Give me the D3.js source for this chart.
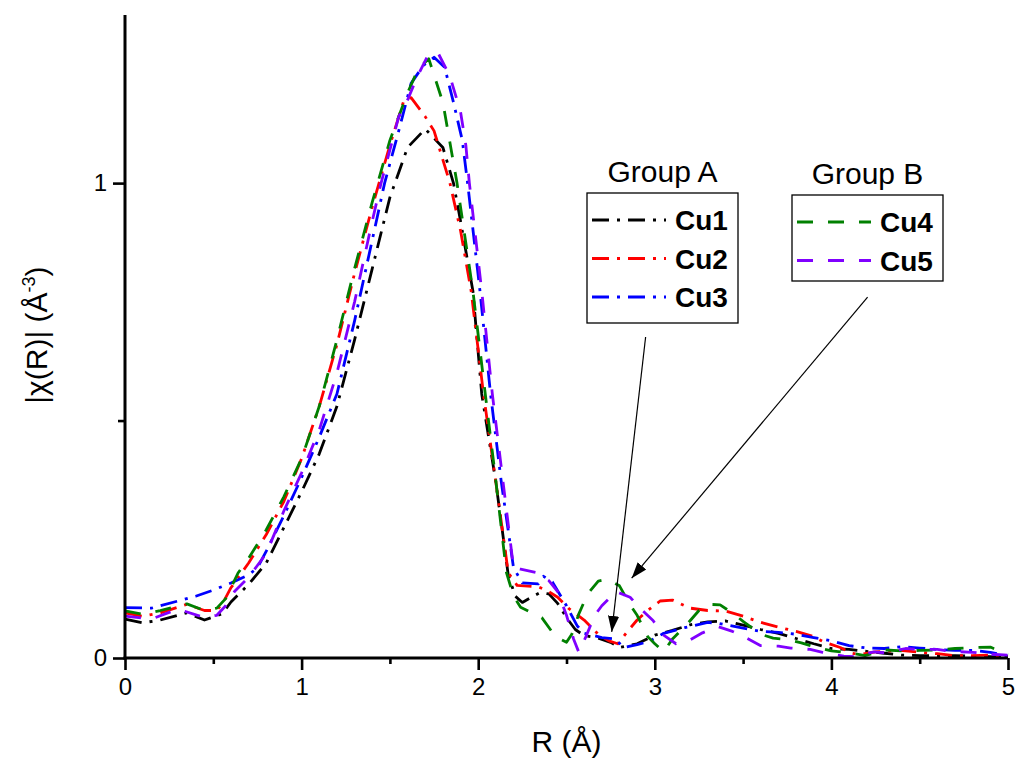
<!DOCTYPE html>
<html>
<head>
<meta charset="utf-8">
<script src="https://cdn.jsdelivr.net/npm/d3@7"></script>
<style>
  body { margin: 0; background: #fff; }
  text { font-family: "Liberation Sans", Arial, sans-serif; }
</style>
</head>
<body>
<svg id="chart" width="1017" height="758"></svg>
<script>
// [R, |chi(R)|] pairs
const cu1 = [[0,0.082],[0.1,0.074],[0.2,0.08],[0.3,0.09],[0.35,0.095],[0.45,0.08],[0.55,0.093],[0.6,0.118],[0.7,0.155],[0.8,0.2],[0.9,0.275],[1.0,0.35],[1.1,0.43],[1.2,0.53],[1.3,0.67],[1.4,0.82],[1.5,0.97],[1.6,1.075],[1.7,1.114],[1.8,1.075],[1.86,1.0],[1.9,0.92],[1.97,0.773],[2.02,0.556],[2.1,0.37],[2.17,0.175],[2.21,0.13],[2.25,0.117],[2.35,0.138],[2.4,0.135],[2.45,0.115],[2.5,0.085],[2.55,0.06],[2.6,0.047],[2.68,0.042],[2.75,0.033],[2.8,0.022],[2.9,0.03],[3.0,0.048],[3.1,0.058],[3.2,0.07],[3.3,0.076],[3.4,0.078],[3.5,0.069],[3.6,0.06],[3.7,0.052],[3.8,0.041],[3.9,0.03],[4.0,0.02],[4.1,0.018],[4.2,0.014],[4.3,0.01],[4.4,0.006],[4.5,0.005],[4.7,0.005],[4.9,0.003],[5.0,0.002]];
const cu2 = [[0,0.095],[0.1,0.088],[0.2,0.095],[0.35,0.113],[0.45,0.1],[0.52,0.1],[0.56,0.12],[0.6,0.148],[0.7,0.2],[0.8,0.26],[0.9,0.33],[1.0,0.42],[1.1,0.53],[1.2,0.66],[1.3,0.81],[1.4,0.95],[1.5,1.08],[1.58,1.175],[1.62,1.18],[1.7,1.14],[1.75,1.11],[1.84,1.0],[1.9,0.9],[1.96,0.773],[2.03,0.556],[2.1,0.37],[2.17,0.18],[2.22,0.153],[2.34,0.15],[2.39,0.142],[2.45,0.128],[2.51,0.105],[2.6,0.08],[2.68,0.05],[2.74,0.036],[2.79,0.03],[2.85,0.058],[2.9,0.08],[2.96,0.1],[3.03,0.12],[3.1,0.122],[3.2,0.105],[3.3,0.1],[3.4,0.099],[3.5,0.088],[3.6,0.075],[3.7,0.065],[3.8,0.056],[3.9,0.045],[3.95,0.035],[4.05,0.022],[4.12,0.01],[4.16,0.007],[4.25,0.013],[4.39,0.016],[4.5,0.012],[4.6,0.009],[4.7,0.005],[4.8,0.005],[4.9,0.006],[5.0,0.003]];
const cu3 = [[0,0.106],[0.15,0.105],[0.3,0.12],[0.4,0.13],[0.5,0.143],[0.6,0.158],[0.7,0.175],[0.75,0.19],[0.8,0.225],[0.9,0.3],[1.0,0.38],[1.1,0.465],[1.2,0.556],[1.3,0.71],[1.4,0.88],[1.47,1.0],[1.55,1.11],[1.62,1.21],[1.69,1.248],[1.75,1.265],[1.81,1.244],[1.86,1.17],[1.91,1.09],[1.94,1.0],[2.01,0.773],[2.07,0.556],[2.13,0.373],[2.2,0.19],[2.25,0.158],[2.34,0.156],[2.37,0.172],[2.42,0.16],[2.5,0.11],[2.56,0.068],[2.6,0.052],[2.7,0.043],[2.78,0.04],[2.82,0.022],[2.9,0.028],[2.97,0.035],[3.05,0.052],[3.17,0.064],[3.3,0.075],[3.36,0.073],[3.5,0.063],[3.6,0.056],[3.7,0.054],[3.8,0.05],[3.9,0.043],[4.0,0.036],[4.1,0.026],[4.2,0.021],[4.3,0.02],[4.4,0.024],[4.5,0.021],[4.6,0.018],[4.7,0.016],[4.8,0.016],[4.9,0.012],[5.0,0.004]];
const cu4 = [[0,0.099],[0.1,0.092],[0.2,0.1],[0.35,0.114],[0.45,0.1],[0.52,0.105],[0.57,0.125],[0.64,0.179],[0.7,0.21],[0.8,0.27],[0.9,0.34],[1.0,0.42],[1.1,0.53],[1.2,0.67],[1.3,0.82],[1.4,0.96],[1.5,1.09],[1.6,1.19],[1.66,1.24],[1.72,1.262],[1.8,1.17],[1.88,1.0],[1.97,0.773],[2.04,0.556],[2.1,0.373],[2.16,0.18],[2.2,0.13],[2.24,0.107],[2.36,0.085],[2.44,0.044],[2.5,0.033],[2.53,0.05],[2.57,0.093],[2.62,0.135],[2.68,0.162],[2.73,0.166],[2.8,0.152],[2.86,0.112],[2.9,0.09],[2.96,0.045],[3.0,0.03],[3.05,0.013],[3.1,0.04],[3.18,0.07],[3.25,0.1],[3.3,0.113],[3.37,0.112],[3.45,0.092],[3.5,0.077],[3.6,0.05],[3.67,0.042],[3.75,0.039],[3.83,0.032],[3.9,0.024],[4.0,0.015],[4.1,0.011],[4.19,0.005],[4.3,0.017],[4.4,0.015],[4.5,0.016],[4.6,0.017],[4.7,0.02],[4.8,0.022],[4.9,0.023],[5.0,0.007]];
const cu5 = [[0,0.088],[0.15,0.082],[0.3,0.103],[0.45,0.085],[0.52,0.09],[0.57,0.11],[0.62,0.14],[0.7,0.17],[0.8,0.22],[0.9,0.31],[1.0,0.39],[1.1,0.48],[1.2,0.6],[1.3,0.75],[1.4,0.92],[1.45,1.0],[1.5,1.07],[1.55,1.14],[1.6,1.175],[1.65,1.22],[1.71,1.265],[1.77,1.276],[1.84,1.225],[1.9,1.15],[1.93,1.08],[1.95,1.0],[2.02,0.773],[2.08,0.556],[2.14,0.373],[2.2,0.19],[2.24,0.187],[2.33,0.18],[2.4,0.163],[2.45,0.14],[2.5,0.09],[2.54,0.04],[2.57,0.012],[2.61,0.045],[2.66,0.09],[2.7,0.11],[2.78,0.14],[2.86,0.128],[2.93,0.1],[2.99,0.079],[3.05,0.048],[3.12,0.03],[3.2,0.038],[3.27,0.053],[3.36,0.066],[3.44,0.056],[3.52,0.042],[3.6,0.026],[3.7,0.025],[3.77,0.021],[3.88,0.018],[3.95,0.012],[4.07,0.004],[4.13,0.003],[4.24,0.013],[4.3,0.011],[4.42,0.02],[4.5,0.018],[4.6,0.018],[4.68,0.014],[4.8,0.012],[4.9,0.008],[5.0,0.006]];

const seriesNames = ["Cu1", "Cu2", "Cu3", "Cu4", "Cu5"];
const seriesData = [cu1, cu2, cu3, cu4, cu5];
const seriesColors = ["#000000", "#ff0000", "#0000ff", "#008000", "#8000ff"];
const dashDot = "17,8,3,8";
const dashed = "16,15";
const seriesDash = [dashDot, dashDot, dashDot, dashed, dashed];
const groupA = ["Cu1", "Cu2", "Cu3"];
const groupB = ["Cu4", "Cu5"];

const xMajor = [0, 1, 2, 3, 4, 5];
const xMinor = [0.5, 1.5, 2.5, 3.5, 4.5];
const yMajor = [0, 1];
const yMinor = [0.5];

// annotation arrows, [from, to] in data units
const arrows = [
  [[2.948, 0.676], [2.756, 0.055]],
  [[4.205, 0.76], [2.869, 0.168]]
];

const svg = d3.select("#chart");

const x = d3.scaleLinear().domain([0, 5]).range([125, 1008]);
const y = d3.scaleLinear().domain([0, 1.354]).range([658, 15]);

const line = d3.line()
  .x(d => x(d[0]))
  .y(d => y(d[1]));

// curves
svg.append("g").selectAll("path")
  .data(seriesData)
  .join("path")
  .attr("d", line)
  .attr("fill", "none")
  .attr("stroke", (d, i) => seriesColors[i])
  .attr("stroke-width", 2.8)
  .attr("stroke-dasharray", (d, i) => seriesDash[i])
  .attr("stroke-linejoin", "round");

// axes
const xAxis = svg.append("g").attr("transform", `translate(0,${y(0)})`);
xAxis.call(d3.axisBottom(x).tickValues(xMajor).tickFormat(d3.format("d")).tickSize(12).tickPadding(8));
xAxis.append("g").call(d3.axisBottom(x).tickValues(xMinor).tickFormat("").tickSize(6));
xAxis.selectAll(".domain").filter((d, i) => i > 0).remove();

const yAxis = svg.append("g").attr("transform", `translate(${x(0)},0)`);
yAxis.call(d3.axisLeft(y).tickValues(yMajor).tickFormat(d3.format("d")).tickSize(12).tickPadding(6));
yAxis.append("g").call(d3.axisLeft(y).tickValues(yMinor).tickFormat("").tickSize(7));
yAxis.selectAll(".domain").filter((d, i) => i > 0).remove();

svg.selectAll(".domain").attr("d", null);
xAxis.append("line").attr("x1", x(0) - 1.5).attr("x2", x(5)).attr("stroke", "#000").attr("stroke-width", 3);
yAxis.append("line").attr("y1", y(0) + 1.5).attr("y2", y(1.354)).attr("stroke", "#000").attr("stroke-width", 3);
svg.selectAll(".tick line").attr("stroke-width", 2.6);
svg.selectAll(".tick text").attr("font-size", 24).attr("fill", "#000");

// axis titles
svg.append("text")
  .attr("x", x(2.5)).attr("y", 752)
  .attr("text-anchor", "middle")
  .attr("font-size", 30)
  .text("R (Å)");

const yTitle = svg.append("text")
  .attr("transform", `translate(47,${y(0.68)}) rotate(-90)`)
  .attr("text-anchor", "middle")
  .attr("font-size", 30);
yTitle.append("tspan").text("|χ(R)| (Å");
yTitle.append("tspan").attr("font-size", 18).attr("dy", -12).text("-3");
yTitle.append("tspan").attr("dy", 12).text(")");

// arrows
svg.append("defs").append("marker")
  .attr("id", "head")
  .attr("viewBox", "0 0 10 10")
  .attr("refX", 10).attr("refY", 5)
  .attr("markerWidth", 16).attr("markerHeight", 16)
  .attr("markerUnits", "userSpaceOnUse")
  .attr("orient", "auto")
  .append("path").attr("d", "M0,1.5L10,5L0,8.5Z").attr("fill", "#000");

svg.append("g").selectAll("line")
  .data(arrows)
  .join("line")
  .attr("x1", d => x(d[0][0])).attr("y1", d => y(d[0][1]))
  .attr("x2", d => x(d[1][0])).attr("y2", d => y(d[1][1]))
  .attr("stroke", "#000").attr("stroke-width", 1.2)
  .attr("marker-end", "url(#head)");

// legends
function legend(title, names, left, top, w, h) {
  const g = svg.append("g");
  g.append("text")
    .attr("x", left + w / 2).attr("y", top - 11)
    .attr("text-anchor", "middle")
    .attr("font-size", 30)
    .text(title);
  g.append("rect")
    .attr("x", left).attr("y", top).attr("width", w).attr("height", h)
    .attr("fill", "#fff").attr("stroke", "#000").attr("stroke-width", 1.3);
  names.forEach((n, i) => {
    const k = seriesNames.indexOf(n);
    const cy = top + 27 + i * 38.5;
    g.append("line")
      .attr("x1", left + 5).attr("x2", left + 79)
      .attr("y1", cy).attr("y2", cy)
      .attr("stroke", seriesColors[k]).attr("stroke-width", 2.8)
      .attr("stroke-dasharray", seriesDash[k]);
    g.append("text")
      .attr("x", left + 88).attr("y", cy + 10)
      .attr("font-size", 28).attr("font-weight", "bold")
      .text(n);
  });
}
legend("Group A", groupA, 587, 193, 151, 130);
legend("Group B", groupB, 792, 195, 151, 86);
</script>
</body>
</html>
